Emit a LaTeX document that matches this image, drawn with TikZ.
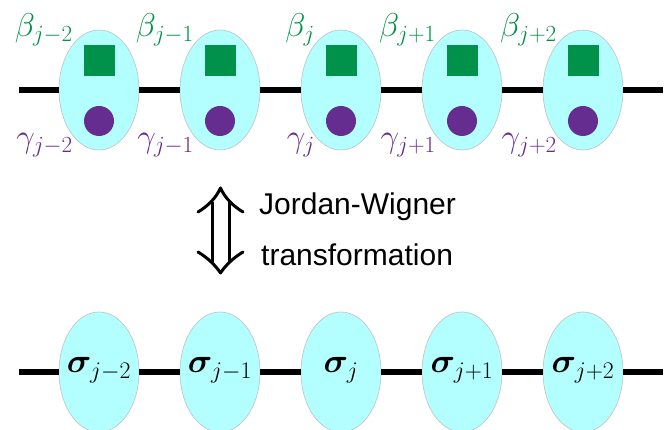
\RequirePackage{fix-cm}
\documentclass[tikz,border=0pt]{standalone}
\usepackage{amsmath}
\usepackage{bm}
\usepackage{fontspec}
\newfontfamily\arialfont{Liberation Sans}
\usetikzlibrary{shapes.geometric}
\definecolor{cellfill}{HTML}{B3FFFF}
\definecolor{cellline}{HTML}{C0C8C8}
\definecolor{bgreen}{HTML}{00924A}
\definecolor{gpurple}{HTML}{662D91}
\begin{document}
\begin{tikzpicture}[x=1pt,y=-1pt,
  cell/.style={ellipse, draw=cellline, line width=0.7pt, fill=cellfill, minimum width=80pt, minimum height=120pt, inner sep=0pt},
  chain/.style={line width=5.2pt, black},
  majb/.style={rectangle, fill=bgreen, minimum size=31pt, inner sep=0pt},
  majg/.style={circle, fill=gpurple, minimum size=30pt, inner sep=0pt},
  blab/.style={text=bgreen, anchor=base east, inner sep=0pt, font=\fontsize{33}{40}\selectfont},
  glab/.style={text=gpurple, anchor=base east, inner sep=0pt, font=\fontsize{33}{40}\selectfont},
  slab/.style={anchor=base, inner sep=0pt, font=\fontsize{34}{40}\selectfont},
  jwtext/.style={anchor=base west, inner sep=0pt, font=\arialfont\fontsize{30}{36}\selectfont},
  arr/.style={line width=3pt, black, line cap=round, line join=round}
]
\useasboundingbox (0,0) rectangle (670,430);

% top chain
\foreach \i/\cx/\s in {1/99/{j-2},2/220/{j-1},3/341/{j},4/462/{j+1},5/583/{j+2}}{
  \node[cell] (t\i) at (\cx,90) {};
  \node[majb] (b\i) at (\cx,60.5) {};
  \node[majg] (g\i) at (\cx,121) {};
  \node[blab] (bl\i) at (\cx-26,37) {$\beta_{\s}$};
  \node[glab] (gl\i) at (\cx-26,148) {$\gamma_{\s}$};
}
\coordinate (tl) at (19,90);
\coordinate (tr) at (663,90);
\draw[chain] (tl) -- (t1.west) (t1.east) -- (t2.west) (t2.east) -- (t3.west)
  (t3.east) -- (t4.west) (t4.east) -- (t5.west) (t5.east) -- (tr);

% bottom chain
\foreach \i/\cx/\s in {1/99/{j-2},2/220/{j-1},3/341/{j},4/462/{j+1},5/583/{j+2}}{
  \node[cell] (c\i) at (\cx,372) {};
  \node[slab] (s\i) at (\cx,373) {$\bm{\sigma}_{\s}$};
}
\coordinate (bl) at (19,372);
\coordinate (br) at (663,372);
\draw[chain] (bl) -- (c1.west) (c1.east) -- (c2.west) (c2.east) -- (c3.west)
  (c3.east) -- (c4.west) (c4.east) -- (c5.west) (c5.east) -- (br);

% double arrow
\coordinate (at) at (220.5,188);
\coordinate (ab) at (220.5,273);
\draw[arr] (198,212) .. controls (208,206) and (216,198) .. (at)
  .. controls (225,198) and (233,206) .. (243,212);
\draw[arr] (198,252) .. controls (208,258) and (216,266) .. (ab)
  .. controls (225,266) and (233,258) .. (243,252);
\draw[arr, line cap=butt] (212,202) -- (212,262);
\draw[arr, line cap=butt] (229,202) -- (229,262);

\node[jwtext] (jw1) at (259,215) {Jordan-Wigner};
\node[jwtext] (jw2) at (261,266) {transformation};
\end{tikzpicture}
\end{document}
